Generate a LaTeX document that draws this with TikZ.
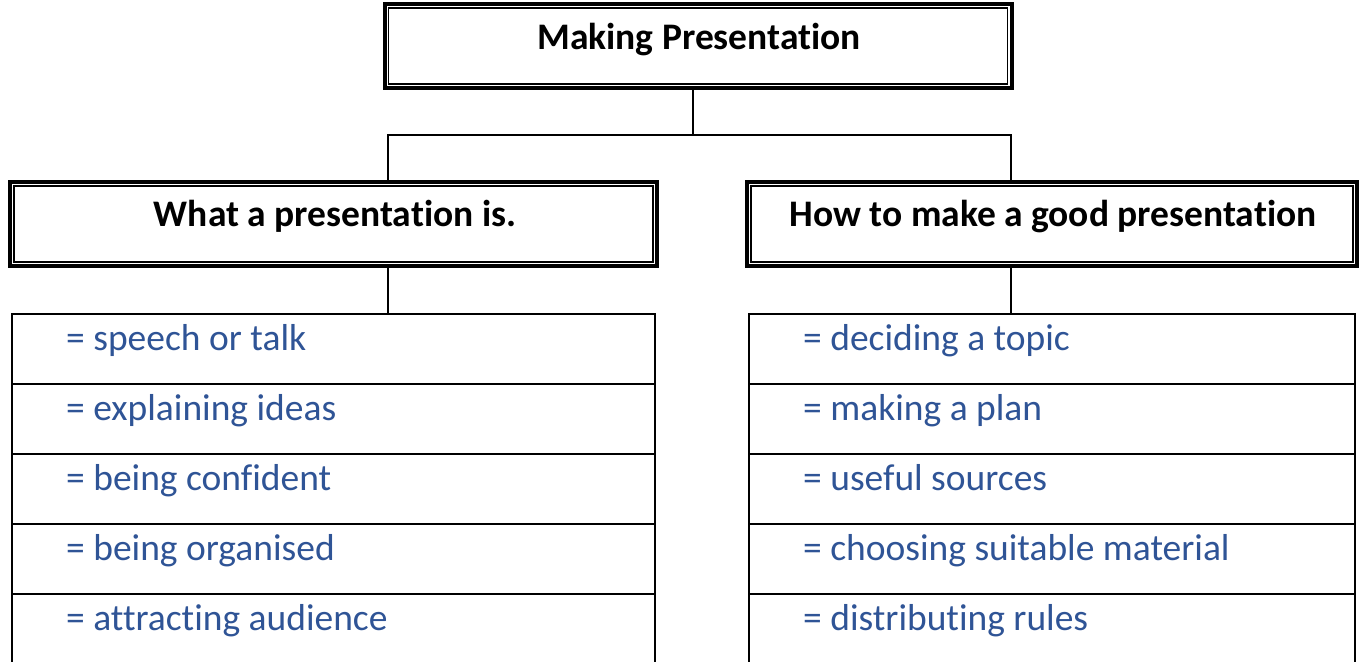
\documentclass[tikz,border=0pt]{standalone}
\usepackage{fontspec}
\setmainfont[Ligatures=NoCommon]{Carlito}
\definecolor{itemblue}{RGB}{47,84,150}
\tikzset{
  dblbox/.style={draw=black, line width=4pt, minimum height=84pt, inner sep=0pt},
  headtxt/.style={font=\bfseries\fontsize{37.5}{44}\selectfont, text=black, inner sep=0pt, anchor=base},
  rowbox/.style={draw=black, line width=2pt},
  itemtxt/.style={font=\fontsize{37.5}{44}\selectfont, text=itemblue, inner sep=0pt, anchor=base west},
  conn/.style={draw=black, line width=2pt}
}
\begin{document}
\begin{tikzpicture}[x=1pt,y=-1pt]
\useasboundingbox[fill=white] (0,0) rectangle (1362,661);
% top box
\node[dblbox, minimum width=627pt] (top) at (698,46) {};
\draw[line width=1.5pt] ([shift={(6,6)}]top.north west) rectangle ([shift={(-6,-6)}]top.south east);
\node[headtxt] (toptxt) at (699,49) {Making Presentation};
% header boxes
\node[dblbox, minimum width=647pt] (lh) at (333.5,224) {};
\draw[line width=1.5pt] ([shift={(6,6)}]lh.north west) rectangle ([shift={(-6,-6)}]lh.south east);
\node[headtxt] (lhtxt) at (335,226) {What a presentation is.};
\node[dblbox, minimum width=610pt] (rh) at (1052,224) {};
\draw[line width=1.5pt] ([shift={(6,6)}]rh.north west) rectangle ([shift={(-6,-6)}]rh.south east);
\node[headtxt] (rhtxt) at (1053,226) {How to make a good presentation};
% connectors
\coordinate (tb) at (693,88);
\coordinate (jc) at (693,135);
\coordinate (jl) at (388,135);
\coordinate (jr) at (1011,135);
\coordinate (lt) at (388,182);
\coordinate (rt) at (1011,182);
\draw[conn] (tb) -- (jc);
\draw[conn] (lt) -- (jl) -- (jr) -- (rt);
\coordinate (lb) at (388,266);
\coordinate (rb) at (1011,266);
\coordinate (ltab) at (388,314);
\coordinate (rtab) at (1011,314);
\draw[conn] (lb) -- (ltab);
\draw[conn] (rb) -- (rtab);
% tables
\foreach \i/\lt/\rt in {0/speech or talk/deciding a topic,
                         1/explaining ideas/making a plan,
                         2/being confident/useful sources,
                         3/being organised/choosing suitable material,
                         4/attracting audience/distributing rules}{
  \draw[rowbox] (12,314+70*\i) rectangle (655,384+70*\i);
  \draw[rowbox] (749,314+70*\i) rectangle (1355,384+70*\i);
  \node[itemtxt] (l\i) at (66,350+70*\i) {= \lt};
  \node[itemtxt] (r\i) at (803,350+70*\i) {= \rt};
}
\end{tikzpicture}
\end{document}
